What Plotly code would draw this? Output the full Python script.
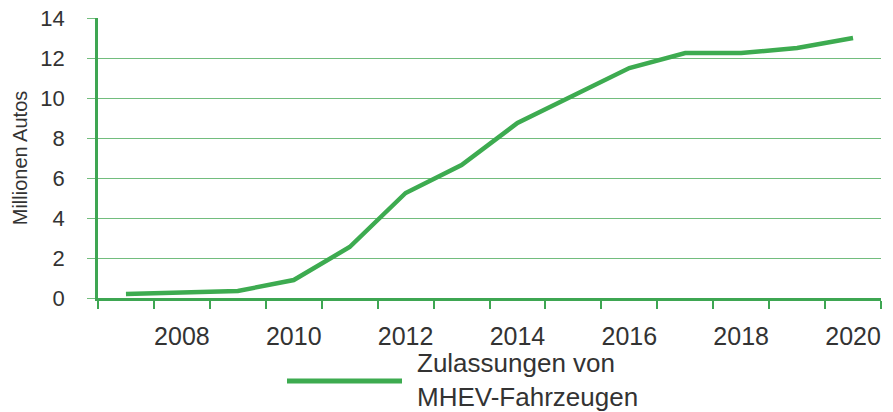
import plotly.graph_objects as go

years = list(range(2007, 2021))
mhev = [0.2, 0.27, 0.35, 0.9, 2.55, 5.25, 6.65, 8.75, 10.15, 11.5, 12.25, 12.25, 12.5, 13.0]
label_years = [2008, 2010, 2012, 2014, 2016, 2018, 2020]
boundaries = [y - 0.5 for y in years] + [years[-1] + 0.5]
series_name = "Zulassungen von<br>MHEV-Fahrzeugen"
y_title = "Millionen Autos"

LINE = "#3dab50"
GRID = "#72bd7d"
AXIS = "#3ea652"
TXT = "#333333"
FONT = "Liberation Sans, Arial, Helvetica, sans-serif"

fig = go.Figure()
fig.add_trace(go.Scatter(x=years, y=mhev, mode="lines", name=series_name,
                         line=dict(color=LINE, width=4.5), showlegend=False))

fig.update_layout(
    width=893, height=412,
    margin=dict(l=98, r=12, t=18, b=114),
    paper_bgcolor="white", plot_bgcolor="white",
    font=dict(family=FONT, color=TXT),
    xaxis=dict(
        automargin=False,
        range=[2006.5, 2020.5],
        tickmode="array", tickvals=label_years, ticktext=[str(v) for v in label_years],
        ticks="", showgrid=False, zeroline=False,
        showline=True, linecolor=AXIS, linewidth=2.5,
        tickfont=dict(size=25, color=TXT),
        ticklabelstandoff=14,
        minor=dict(tickmode="array", tickvals=boundaries, ticks="outside",
                   ticklen=8, tickwidth=2, tickcolor=AXIS, showgrid=False),
    ),
    yaxis=dict(
        automargin=False,
        range=[0, 14], tickmode="linear", tick0=0, dtick=2,
        showgrid=True, gridcolor=GRID, gridwidth=1.2,
        zeroline=False,
        showline=True, linecolor=AXIS, linewidth=2.5,
        ticks="outside", ticklen=8, tickwidth=1.2, tickcolor=GRID,
        tickfont=dict(size=22, color=TXT),
        ticklabelstandoff=18,
        title=dict(text=y_title, font=dict(size=20, color=TXT), standoff=8),
    ),
)

fig.add_shape(type="line", xref="paper", yref="paper",
              x0=(287 - 98) / 783, x1=(402 - 98) / 783,
              y0=(298 - 381) / 280, y1=(298 - 381) / 280,
              line=dict(color=LINE, width=5))
fig.add_annotation(xref="paper", yref="paper",
                   x=(415 - 98) / 783, y=(298 - 380) / 280,
                   xanchor="left", yanchor="middle", align="left",
                   text=series_name, showarrow=False,
                   font=dict(size=26, color=TXT, family=FONT))

fig.write_html("out.html",
               config={"displayModeBar": False},
               post_script="document.body.style.margin='0';document.body.style.overflow='hidden';")
